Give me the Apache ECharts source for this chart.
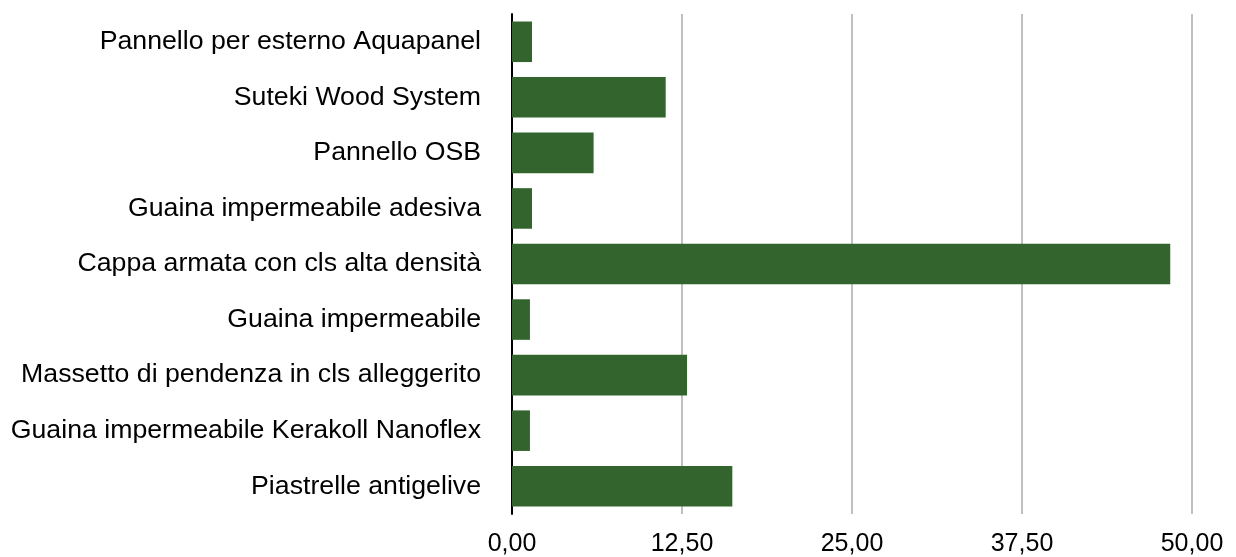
<!DOCTYPE html>
<html>
<head>
<meta charset="utf-8">
<script src="https://cdn.jsdelivr.net/npm/echarts@6/dist/echarts.min.js"></script>
<style>
html,body{margin:0;padding:0;background:#fff;}
#chart{width:1236px;height:557px;}
</style>
</head>
<body>
<div id="chart"></div>
<script>
const categories = [
  "Pannello per esterno Aquapanel",
  "Suteki Wood System",
  "Pannello OSB",
  "Guaina impermeabile adesiva",
  "Cappa armata con cls alta densità",
  "Guaina impermeabile",
  "Massetto di pendenza in cls alleggerito",
  "Guaina impermeabile Kerakoll Nanoflex",
  "Piastrelle antigelive"
];
const values = [1.47, 11.3, 6.0, 1.47, 48.4, 1.32, 12.87, 1.32, 16.2];
const xTicks = [0, 12.5, 25, 37.5, 50];

const chart = echarts.init(document.getElementById('chart'), null, {renderer:'canvas'});
const font = '"Liberation Sans", Helvetica, Arial, sans-serif';
chart.setOption({
  animation: false,
  grid: {left: 512, right: 44, top: 14, bottom: 42, containLabel: false},
  xAxis: {
    type: 'value',
    min: xTicks[0],
    max: xTicks[xTicks.length - 1],
    interval: xTicks[1] - xTicks[0],
    axisLine: {show: false},
    axisTick: {show: false},
    splitLine: {show: true, lineStyle: {color: '#c0c0c0', width: 2}},
    axisLabel: {
      margin: 18,
      color: '#000',
      fontSize: 25,
      fontFamily: font,
      formatter: v => v.toFixed(2).replace('.', ',')
    }
  },
  yAxis: {
    type: 'category',
    data: categories,
    inverse: true,
    axisLine: {show: true, lineStyle: {color: '#000', width: 2}},
    axisTick: {show: false},
    splitLine: {show: false},
    axisLabel: {
      margin: 31,
      color: '#000',
      fontSize: 26.7,
      fontFamily: font
    }
  },
  series: [{
    type: 'bar',
    data: values,
    barCategoryGap: '27%',
    itemStyle: {color: '#34642D'}
  }]
});
</script>
</body>
</html>
